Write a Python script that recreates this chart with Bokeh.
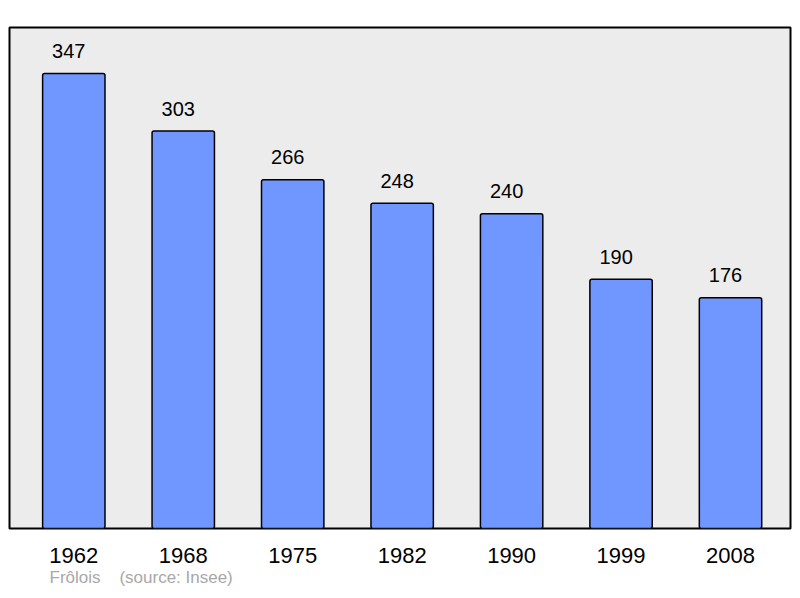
from bokeh.plotting import figure
from bokeh.models import ColumnDataSource, FixedTicker, Title, Range1d
from bokeh.embed import file_html
from bokeh.resources import INLINE

years = ["1962", "1968", "1975", "1982", "1990", "1999", "2008"]
population = [347, 303, 266, 248, 240, 190, 176]
commune = "Frôlois"
source_note = "(source: Insee)"

FONT = "Liberation Sans"
xs = list(range(len(years)))
src = ColumnDataSource(dict(x=xs, top=population, label=[str(v) for v in population]))

p = figure(frame_width=781, frame_height=501, output_backend="svg", toolbar_location=None,
           x_range=Range1d(-0.5875, 6.548), y_range=Range1d(0, 382),
           y_axis_location=None, min_border_left=9, min_border_right=10,
           min_border_top=27, min_border_bottom=0)
p.background_fill_color = "#ececec"
p.border_fill_color = "white"
p.outline_line_color = "black"
p.outline_line_width = 2
p.grid.visible = False

p.vbar(x="x", top="top", width=0.57, bottom=0, source=src, fill_color="#7096ff",
       line_color="black", line_width=1.5, border_radius=2)
p.text(x="x", y="top", text="label", source=src, text_align="center",
       text_baseline="alphabetic", x_offset=-5, y_offset=-22.5, text_font_size="20px",
       text_font={"value": FONT}, text_color="black")

ax = p.xaxis[0]
ax.ticker = FixedTicker(ticks=xs)
ax.major_label_overrides = {i: y for i, y in zip(xs, years)}
ax.axis_line_color = None
ax.major_tick_line_color = None
ax.minor_tick_line_color = None
ax.major_label_text_font = FONT
ax.major_label_text_font_size = "22px"
ax.major_label_text_color = "black"
ax.major_label_standoff = 13

cap = Title(text=commune + "\u00a0\u00a0\u00a0 " + source_note, align="left",
            offset=40, text_font=FONT, text_font_size="17px", text_font_style="normal",
            text_color="#a8a8a8", standoff=0)
p.add_layout(cap, "below")

open("out.html", "w").write(file_html(p, INLINE))
